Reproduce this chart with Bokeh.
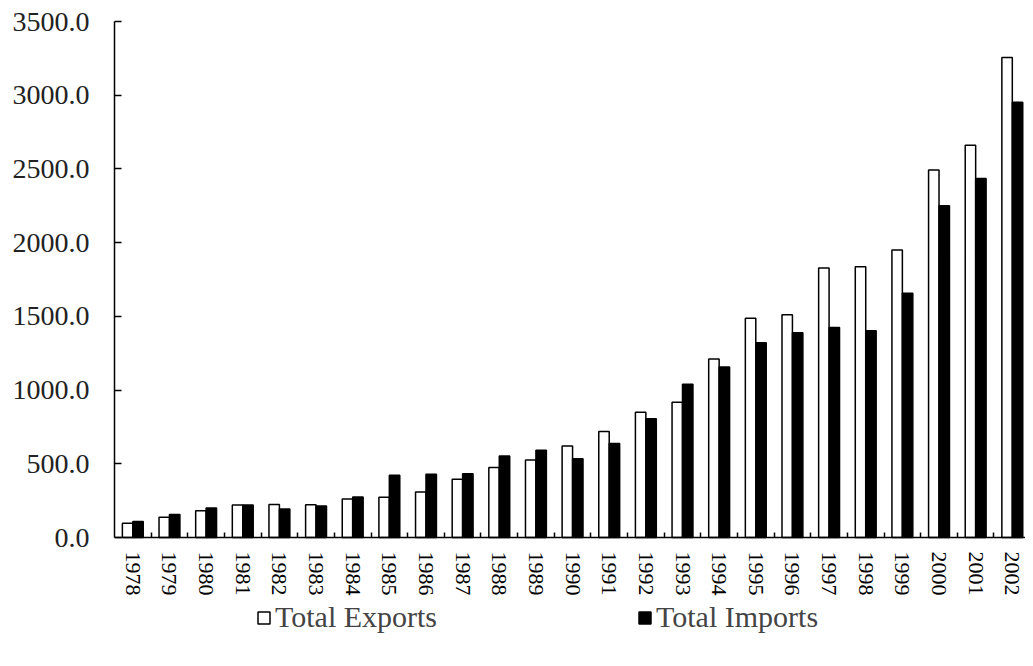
from bokeh.plotting import figure
from bokeh.models import Range1d, FixedTicker, NumeralTickFormatter, Legend, LegendItem, ColumnDataSource, LinearAxis
from bokeh.embed import file_html
from bokeh.resources import INLINE

years = list(range(1978, 2003))
year_labels = [str(y) for y in years]
exports = [97.5, 136.6, 181.2, 220.1, 223.2, 222.3, 261.4, 273.5, 309.4, 394.4,
           475.2, 525.4, 620.9, 719.1, 849.4, 917.4, 1210.1, 1487.8, 1510.5, 1827.9,
           1837.1, 1949.3, 2492.0, 2661.0, 3256.0]
imports = [108.9, 156.7, 200.2, 220.2, 192.9, 213.9, 274.1, 422.5, 429.1, 432.1,
           552.7, 591.4, 533.5, 637.9, 805.9, 1039.6, 1156.1, 1320.8, 1388.3, 1423.7,
           1402.4, 1657.0, 2250.9, 2435.5, 2951.7]
y_ticks = [0, 500, 1000, 1500, 2000, 2500, 3000, 3500]
series_names = ["Total Exports", "Total Imports"]

BW = 0.285
src = ColumnDataSource(dict(
    xe=[y - BW / 2 for y in years],
    xi=[y + BW / 2 for y in years],
    ex=exports, im=imports))

# frame spans the whole height below the top border; y=0 sits 121px above the bottom
H, TOP, BOTTOM_PAD = 658, 21, 121
YMAX = 3500
units_per_px = YMAX / (H - TOP - BOTTOM_PAD)
ymin = -BOTTOM_PAD * units_per_px

p = figure(width=1025, height=H, output_backend="svg", toolbar_location=None,
           x_range=Range1d(1977.5, 2002.36), y_range=Range1d(ymin, YMAX),
           min_border_left=114, min_border_right=0, min_border_top=TOP, min_border_bottom=0,
           x_axis_location=None)
p.background_fill_color = "white"
p.border_fill_color = "white"
p.outline_line_color = None
p.ygrid.visible = False
p.xgrid.visible = False

r_ex = p.vbar(x="xe", top="ex", width=BW, bottom=0, source=src,
              fill_color="white", line_color="black", line_width=1.5)
r_im = p.vbar(x="xi", top="im", width=BW, bottom=0, source=src,
              fill_color="black", line_color="black", line_width=1.5)

FONT = "Liberation Serif"

xa = LinearAxis(fixed_location=0)
p.add_layout(xa, "below")
boundaries = [y + 0.5 for y in years[:-1]]
xa.ticker = FixedTicker(ticks=years, minor_ticks=boundaries)
xa.major_label_overrides = {y: l for y, l in zip(years, year_labels)}
xa.major_label_orientation = "vertical"
xa.major_label_text_font = FONT
xa.major_label_text_font_size = "22px"
xa.major_label_text_color = "black"
xa.major_label_standoff = 14
xa.major_tick_in = 0
xa.major_tick_out = 0
xa.minor_tick_in = 5
xa.minor_tick_out = 0
xa.minor_tick_line_color = "black"
xa.minor_tick_line_width = 1.5
xa.axis_line_color = "black"
xa.axis_line_width = 1.5

ya = p.yaxis[0]
ya.bounds = (0, YMAX)
ya.ticker = FixedTicker(ticks=y_ticks)
ya.formatter = NumeralTickFormatter(format="0.0")
ya.major_label_text_font = FONT
ya.major_label_text_font_size = "28px"
ya.major_label_text_color = "#222222"
ya.major_label_standoff = 25
ya.major_tick_in = 7
ya.major_tick_out = 0
ya.major_tick_line_width = 1.5
ya.minor_tick_line_color = None
ya.axis_line_color = "black"
ya.axis_line_width = 1.5

legend = Legend(items=[LegendItem(label=series_names[0], renderers=[r_ex]),
                       LegendItem(label=series_names[1], renderers=[r_im])],
                orientation="horizontal", location=(142, 24),
                glyph_width=15, glyph_height=15, spacing=200,
                label_text_font=FONT, label_text_font_size="30px",
                label_standoff=4, background_fill_alpha=0, border_line_color=None,
                padding=0, margin=0)
p.add_layout(legend, "center")

open("out.html", "w").write(file_html(p, INLINE))
